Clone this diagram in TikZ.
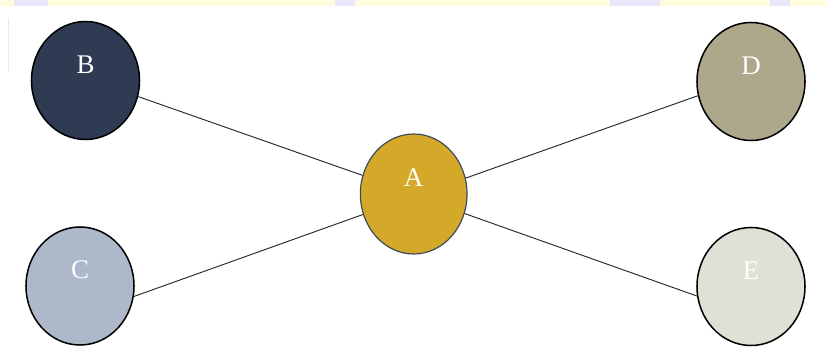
\documentclass[tikz,border=0pt]{standalone}
\usepackage{fontspec}
\setmainfont{Liberation Serif}
\usepackage{tikz}
\usetikzlibrary{shapes.geometric}
\usepackage{xcolor}

\definecolor{navyB}{RGB}{47,59,82}
\definecolor{goldA}{RGB}{212,168,40}
\definecolor{slateC}{RGB}{173,185,202}
\definecolor{khakiD}{RGB}{173,168,139}
\definecolor{paleE}{RGB}{224,224,214}
\definecolor{rimA}{RGB}{60,72,92}
\definecolor{bandY}{RGB}{255,251,222}
\definecolor{bandL}{RGB}{232,230,250}

\tikzset{
    bubble/.style={ellipse, draw=black, line width=1.3pt, inner sep=0pt,
        minimum width=3.24cm, minimum height=3.54cm},
    tag/.style={text=white, font=\fontsize{23}{27}\selectfont, yshift=0.48cm},
    link/.style={draw=black!85, line width=0.8pt}
}

\begin{document}
\begin{tikzpicture}[x=0.03cm, y=-0.03cm]
    \useasboundingbox (0,0) rectangle (827,347);
    % Band
    \fill[bandY] (0,0) rectangle (827,6);
    \fill[bandL] (14,0) rectangle (48,6);
    \fill[bandL] (335,0) rectangle (355,6);
    \fill[bandL] (610,0) rectangle (660,6);
    \fill[bandL] (770,0) rectangle (790,6);
    \draw[bandL, line width=0.6pt] (8,18) -- (8,72);

    % Nodes
    \node[bubble, fill=goldA, draw=rimA, line width=1pt, minimum width=3.2cm,
        minimum height=3.6cm, label={[tag]center:A}] (a) at (413.7,194) {};
    \node[bubble, fill=navyB, label={[tag]center:B}] (b) at (85.5,80.5) {};
    \node[bubble, fill=slateC, label={[tag]center:C}] (c) at (80,286) {};
    \node[bubble, fill=khakiD, label={[tag]center:D}] (d) at (751,81.5) {};
    \node[bubble, fill=paleE, label={[tag]center:E}] (e) at (751,286.5) {};

    % Links
    \draw[link] (b.-17) -- (a.160);
    \draw[link] (c.-11) -- (a.-158);
    \draw[link] (a.17) -- (d.-165);
    \draw[link] (a.-21) -- (e.-170);
\end{tikzpicture}
\end{document}
